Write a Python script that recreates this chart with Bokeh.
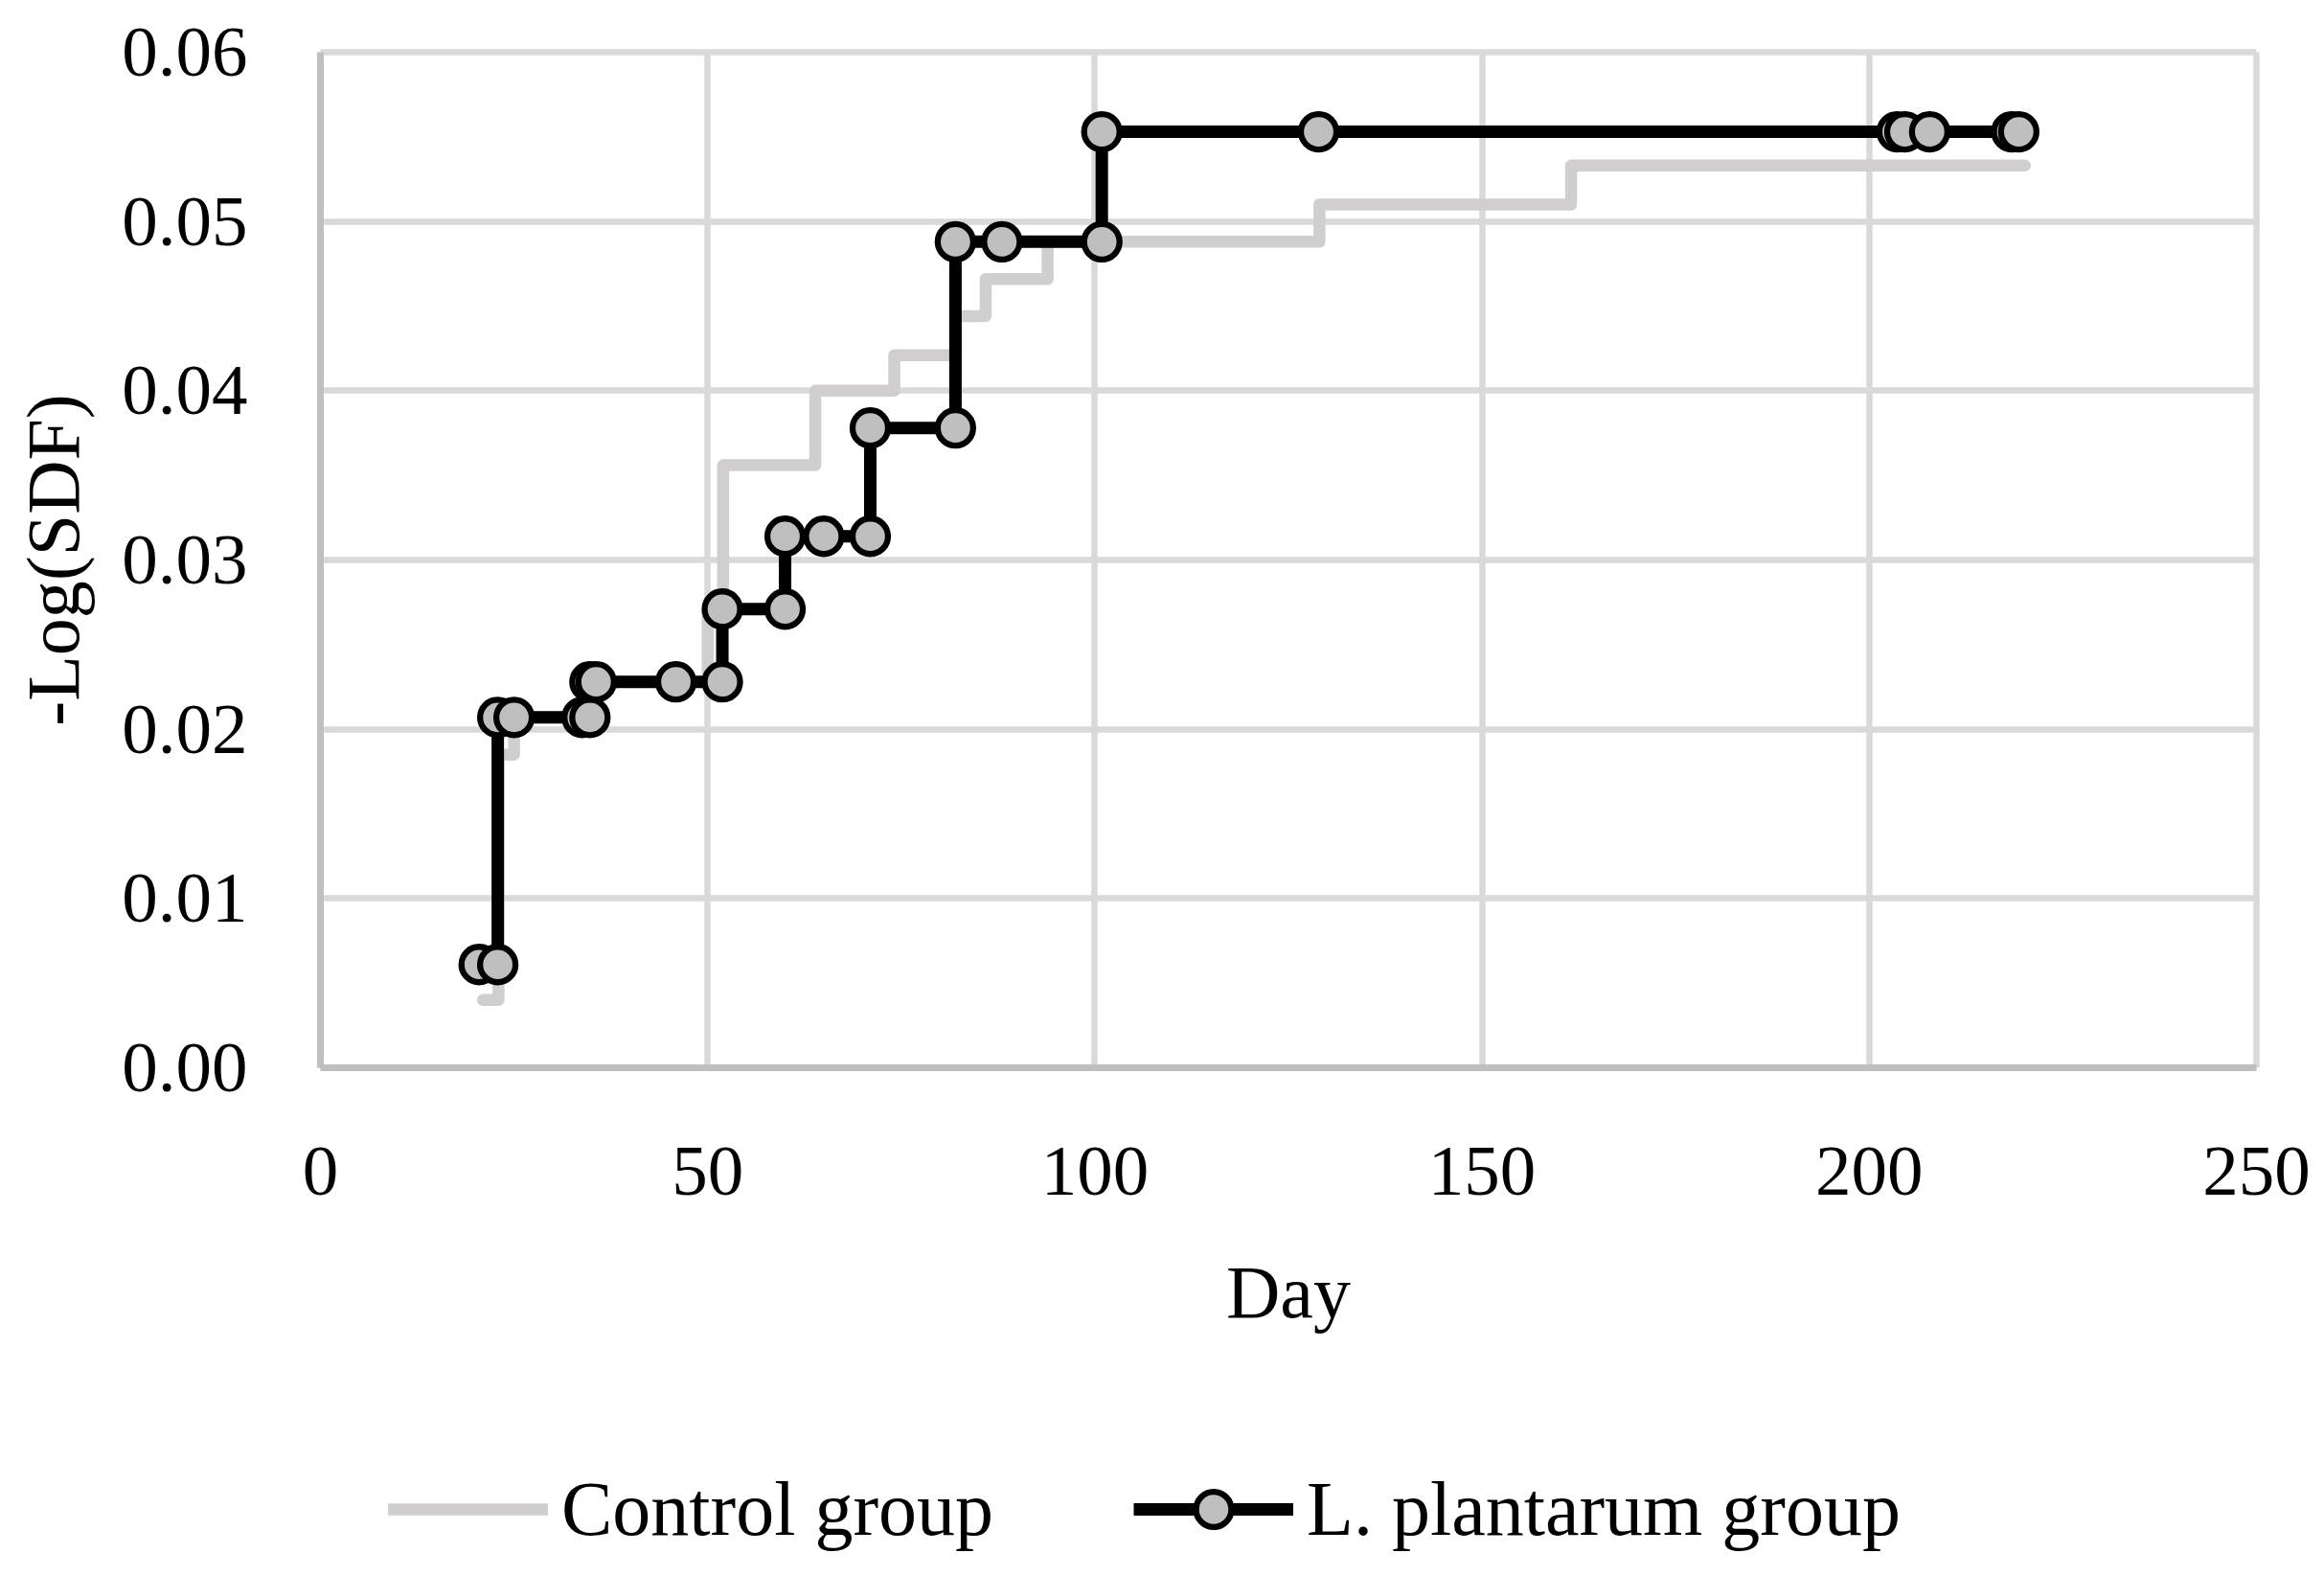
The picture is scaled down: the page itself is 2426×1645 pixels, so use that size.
from bokeh.plotting import figure
from bokeh.models import Range1d, FixedTicker, Legend, LegendItem, PrintfTickFormatter
from bokeh.embed import file_html
from bokeh.resources import INLINE

# ---- data ----
# Control group: step-change points (day, -Log(SDF)), held until the next day
control_days = [21.0, 23.0, 25.0, 34.5, 50.0, 52.0, 63.9, 74.1, 82.0, 85.9, 93.9, 129.0, 161.5, 220.1]
control_vals = [0.0040, 0.0185, 0.0207, 0.0228, 0.0270, 0.0356, 0.0400, 0.0421, 0.0444, 0.0466,
                0.0488, 0.0510, 0.0533, 0.0533]

# L. plantarum group: plotted points (with duplicates at the vertical steps)
lp_days = [20.5, 22.9, 22.9, 25.0, 33.8, 34.8, 34.8, 35.6, 45.9, 51.9, 51.9, 60.0, 60.0, 65.0,
           71.0, 71.0, 82.0, 82.0, 88.0, 100.9, 100.9, 128.9, 203.6, 204.6, 207.8, 218.4, 219.3]
lp_vals = [0.0061, 0.0061, 0.0207, 0.0207, 0.0207, 0.0207, 0.0228, 0.0228, 0.0228, 0.0228,
           0.0271, 0.0271, 0.0314, 0.0314, 0.0314, 0.0378, 0.0378, 0.0488, 0.0488, 0.0488,
           0.0553, 0.0553, 0.0553, 0.0553, 0.0553, 0.0553, 0.0553]

x_ticks = [0, 50, 100, 150, 200, 250]
y_ticks = [0.00, 0.01, 0.02, 0.03, 0.04, 0.05, 0.06]

FONT = "Liberation Serif"

# The data area (0..250 days, 0..0.06) is 2021 x 1060 px; the drawing area is widened so
# that the axes (pinned at 0) and their labels and the legend all sit inside it.
W, H = 2420, 1629
PX_DAY = 2021 / 250
PX_UNIT = 1060 / 0.06
LEFT, TOP = 334, 54
x_lo = -LEFT / PX_DAY
x_hi = 250 + (W - LEFT - 2021) / PX_DAY
y_lo = -(H - TOP - 1060) / PX_UNIT
y_hi = 0.06 + TOP / PX_UNIT

p = figure(frame_width=W, frame_height=H, output_backend="svg", toolbar_location=None,
           x_range=Range1d(x_lo, x_hi), y_range=Range1d(y_lo, y_hi),
           min_border=0)
p.outline_line_color = None
p.background_fill_color = "white"
p.border_fill_color = "white"

for g in (p.xgrid, p.ygrid):
    g.grid_line_color = "#d9d9d9"
    g.grid_line_width = 6.5
p.xgrid.cross_bounds = (0, 0.06)
p.ygrid.cross_bounds = (0, 250)
p.xaxis.ticker = FixedTicker(ticks=x_ticks)
p.yaxis.ticker = FixedTicker(ticks=y_ticks)
p.yaxis.formatter = PrintfTickFormatter(format="%.2f")
p.xaxis.bounds = (0, 250)
p.yaxis.bounds = (0, 0.06)
p.xaxis.fixed_location = 0
p.yaxis.fixed_location = 0

for ax in (p.xaxis, p.yaxis):
    ax.axis_line_color = "#bfbfbf"
    ax.axis_line_width = 7
    ax.major_tick_line_color = None
    ax.minor_tick_line_color = None
    ax.major_tick_out = 0
    ax.major_tick_in = 0
    ax.minor_tick_out = 0
    ax.minor_tick_in = 0
    ax.major_label_text_font = FONT
    ax.major_label_text_font_size = "75px"
    ax.major_label_text_color = "black"
    ax.axis_label_text_font = FONT
    ax.axis_label_text_font_size = "78px"
    ax.axis_label_text_font_style = "normal"
    ax.axis_label_text_color = "black"

p.xaxis.axis_label = "Day"
p.yaxis.axis_label = "-Log(SDF)"
p.xaxis.major_label_standoff = 83
p.yaxis.major_label_standoff = 76
p.xaxis.axis_label_standoff = 55
p.yaxis.axis_label_standoff = 25

# series
ctrl = p.step(control_days, control_vals, mode="after", line_color="#d0cece", line_width=12.5,
              line_cap="round", line_join="round")
lp_line = p.line(lp_days, lp_vals, line_color="black", line_width=13, line_join="round")
lp_pts = p.scatter(lp_days, lp_vals, marker="circle", size=37, fill_color="#bfbfbf",
                   line_color="black", line_width=6.3)

legend = Legend(items=[LegendItem(label="Control group", renderers=[ctrl]),
                       LegendItem(label="L. plantarum group", renderers=[lp_line, lp_pts])],
                orientation="horizontal", location=(405, 8),
                glyph_width=167, glyph_height=92, label_standoff=14, spacing=146,
                padding=0, margin=0, border_line_color=None, background_fill_alpha=0,
                label_text_font=FONT, label_text_font_size="80px", label_text_color="black")
p.add_layout(legend, "center")

open("out.html", "w").write(file_html(p, INLINE))
